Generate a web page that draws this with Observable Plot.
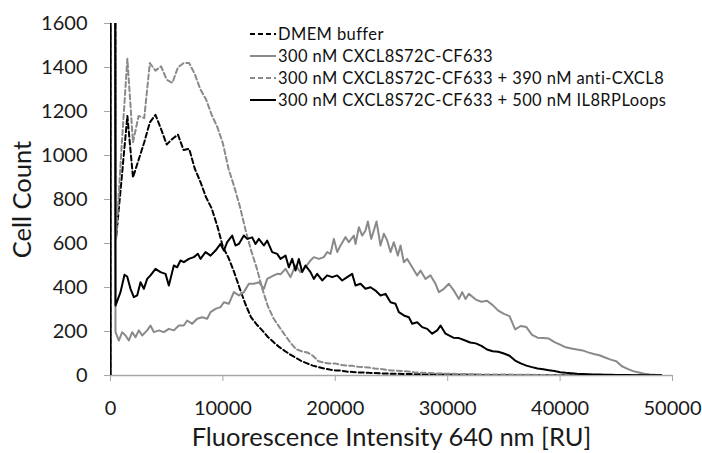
<!DOCTYPE html>
<html>
<head>
<meta charset="utf-8">
<script src="https://cdn.jsdelivr.net/npm/d3@7"></script>
<script src="https://cdn.jsdelivr.net/npm/@observablehq/plot@0.6"></script>
<style>
  html, body { margin: 0; padding: 0; background: #fff; }
  #wrap { position: relative; width: 702px; height: 453px; font-family: Lato, "Open Sans", sans-serif; }
  #legend { position: absolute; left: 250px; top: 23.5px; font-size: 16.5px; letter-spacing: 0.4px; color: #111; }
  .row { display: flex; align-items: center; height: 21.8px; white-space: nowrap; }
  .row svg { margin-right: 1px; flex: none; }
</style>
</head>
<body>
<div id="wrap"></div>
<script>
// Shared bins (RU) for the two dashed series
const binX = [0, 0, 500, 1000, 1500, 2000, 2500, 3000, 3500, 4000, 4500,
  5000, 5500, 6000, 6500, 7000, 7500, 8000, 8500, 9000, 9500,
  10000, 10500, 11000, 11500, 12000, 12500, 13000, 13500, 14000, 14500,
  15000, 15500, 16000, 16500, 17000, 17500, 18000, 18500, 19000, 19500,
  20000, 20500, 21000, 21500, 22000, 22500, 23000, 23500, 24000, 24500,
  25000, 25500, 26000, 26500, 27000, 27500, 28000, 28500, 29000, 29500,
  30000, 30500, 31000, 31500, 32000, 32500, 33000, 33500, 34000, 34500,
  35000, 35500, 36000, 36500, 37000, 37500, 38000, 38500, 39000, 39500,
  40000, 40500, 41000, 41500, 42000, 42500, 43000, 43500, 44000, 44500,
  45000, 45500, 46000, 46500, 47000, 47500, 48000, 48500, 49000];

const dmemY = [0, 20000, 627, 900, 1180, 900, 980, 1060, 1150, 1185, 1120, 1050,
  1075, 1095, 1025, 1030, 940, 880, 810, 760, 680, 585,
  535, 470, 395, 325, 265, 232, 205, 175, 152, 130,
  112, 95, 80, 65, 55, 45, 38, 32, 27, 23,
  22, 18, 16, 14, 14, 12, 11, 10, 9, 8,
  8, 7, 7, 6, 6, 5, 5, 5, 4, 4,
  4, 3, 3, 3, 3, 2, 2, 2, 2, 2,
  2, 1, 1, 1, 1, 1, 1, 1, 1, 1,
  1, 1, 1, 1, 1, 0, 0, 0, 0, 0,
  0, 0, 0, 0, 0, 0, 0, 0];

const antiY = [0, 20000, 620, 1050, 1440, 1060, 1180, 1170, 1420, 1386, 1405, 1345,
  1330, 1400, 1420, 1420, 1370, 1300, 1255, 1185, 1130, 1055,
  940, 860, 770, 665, 570, 490, 395, 315, 260, 222,
  185, 150, 120, 110, 105, 90, 65, 58, 55, 55,
  48, 45, 44, 40, 38, 36, 32, 30, 26, 23,
  22, 20, 18, 15, 13, 12, 11, 9, 9, 8,
  8, 7, 7, 6, 6, 5, 5, 5, 4, 4,
  4, 3, 3, 3, 3, 2, 2, 2, 2, 2,
  2, 1, 1, 1, 1, 1, 1, 1, 1, 1,
  1, 1, 0, 0, 0, 0, 0, 0];

// 300 nM CXCL8S72C-CF633 (solid grey)
const cxcl8X = [0, 0, 445, 742, 1038, 1335, 1631, 1928, 2224, 2521, 2818,
  3263, 3559, 3856, 4301, 4746, 5190, 5635, 6080, 6525,
  6822, 7267, 7712, 8157, 8601, 8898, 9343, 9788, 10084,
  10529, 10974, 11419, 11864, 12309, 12754, 13199, 13644, 13940,
  14534, 14830, 15125, 15570, 16015, 16460, 16905, 17350, 17794,
  18091, 18536, 18981, 19277, 19574, 19871, 20167, 20464, 20909,
  21205, 21650, 21799, 22095, 22392, 22688, 22896, 23193, 23430,
  23667, 24023, 24320, 24616, 24913, 25209, 25565, 25803, 26099,
  26396, 26841, 27286, 27582, 28027, 28472, 28917, 29214, 29659,
  30104, 30548, 30993, 31290, 31587, 31883,
  32500, 33000, 33500, 34000, 34500, 35000, 35500, 36000, 36500, 37000,
  37500, 38000, 38500, 39000, 39500, 40000, 40500, 41000, 41500, 42000,
  42500, 43000, 43500, 44000, 44500, 45000, 45500, 46000, 46500, 47000,
  47500, 48000, 48500, 49000];
const cxcl8Y = [0, 20000, 197, 159, 197, 182, 159, 197, 174, 205, 182,
  205, 227, 197, 205, 197, 212, 205, 227, 227,
  250, 235, 258, 265, 258, 288, 303, 311, 333,
  326, 379, 364, 379, 417, 417, 424, 394, 439,
  455, 462, 460, 485, 447, 500, 470, 492, 523,
  538, 530, 538, 561, 553, 621, 561, 591, 629,
  606, 636, 598, 674, 636, 659, 700, 621, 659,
  700, 591, 644, 614, 561, 606, 545, 591, 515,
  530, 492, 455, 477, 439, 455, 417, 379, 394,
  417, 386, 348, 379, 348, 371,
  345, 335, 340, 320, 295, 280, 270, 210, 225, 220,
  185, 172, 170, 168, 152, 140, 128, 123, 118, 114,
  105, 98, 92, 82, 72, 65, 42, 30, 20, 14,
  8, 5, 3, 2];

// 300 nM CXCL8S72C-CF633 + 500 nM IL8RPLoops (solid black)
const il8X = [0, 0, 445, 890, 1246, 1483, 1780, 2076, 2373, 2670, 2966,
  3263, 3559, 4004, 4449, 4894, 5190, 5635, 5932, 6228,
  6525, 6970, 7415, 7771, 8008, 8453, 8898, 9343, 9788,
  10084, 10381, 10826, 11122, 11419, 11864, 12161, 12606, 12902,
  13199, 13644, 13940, 14385, 14830, 15125, 15570, 15866, 16163,
  16460, 16756, 17053, 17350, 17794, 18091, 18388, 18833, 19277,
  19722, 20167, 20612, 21057, 21502, 21799, 22244, 22688, 23133,
  23578, 24023, 24468, 24913, 25358, 25655, 26099, 26544, 26841,
  27286, 27730, 28175, 28620, 29065, 29362, 29807,
  30500, 31000, 31500, 32000, 32500, 33000, 33500, 34000, 34500, 35000,
  35500, 36000, 36500, 37000, 37500, 38000, 38500, 39000, 39500, 40000,
  40500, 41000, 41500, 42000, 42500, 43000, 43500, 44000, 44500, 45000,
  45500, 46000, 46500, 47000, 47500, 48000, 48500, 49000];
const il8Y = [0, 20000, 318, 379, 458, 450, 394, 356, 364, 424, 394,
  439, 455, 485, 470, 462, 409, 500, 492, 523,
  515, 530, 538, 553, 530, 561, 545, 568, 598,
  568, 606, 636, 591, 598, 636, 621, 628, 598,
  621, 591, 613, 561, 553, 530, 545, 492, 530,
  477, 530, 470, 500, 470, 439, 462, 432, 455,
  447, 455, 432, 447, 462, 409, 417, 394, 401,
  386, 364, 371, 333, 326, 288, 273, 265, 235,
  242, 220, 212, 190, 205, 227, 190,
  172, 170, 160, 150, 146, 135, 118, 110, 108, 100,
  90, 68, 55, 45, 38, 32, 28, 24, 20, 15,
  12, 10, 8, 7, 6, 5, 4, 3, 3, 2,
  2, 2, 1, 1, 1, 1, 1, 1];

const seriesNames = [
  "DMEM buffer",
  "300 nM CXCL8S72C-CF633",
  "300 nM CXCL8S72C-CF633 + 390 nM anti-CXCL8",
  "300 nM CXCL8S72C-CF633 + 500 nM IL8RPLoops"
];
const seriesXs = [binX, cxcl8X, binX, il8X];
const seriesYs = [dmemY, cxcl8Y, antiY, il8Y];
const seriesColors = ["#000000", "#8a8a8a", "#8a8a8a", "#000000"];
const seriesDash = ["5,3", null, "5,3", null];

const xTicks = [0, 10000, 20000, 30000, 40000, 50000];
const yTicks = [0, 200, 400, 600, 800, 1000, 1200, 1400, 1600];

const xTitle = "Fluorescence Intensity 640 nm [RU]";
const yTitle = "Cell Count";

const lineMarks = seriesYs.map((ys, i) => {
  const xs = seriesXs[i];
  const rows = ys.map((y, j) => ({x: xs[j], y}));
  return Plot.line(rows, {
    x: "x", y: "y",
    stroke: seriesColors[i],
    strokeWidth: 2,
    strokeDasharray: seriesDash[i] || undefined,
    strokeLinejoin: "round",
    clip: true
  });
});

const chart = Plot.plot({
  width: 702,
  height: 453,
  marginLeft: 110,
  marginRight: 30,
  marginTop: 23,
  marginBottom: 78,
  style: {fontFamily: "Lato, 'Open Sans', sans-serif", fontSize: "20px", color: "#1a1a1a", background: "#fff"},
  x: {domain: [0, 50000]},
  y: {domain: [0, 1600]},
  marks: [
    Plot.axisY({ticks: yTicks, tickSize: 6, tickPadding: 17, tickFormat: d => String(d), label: null, stroke: "#a6a6a6", fill: "#1a1a1a", fontSize: 20}),
    Plot.axisX({ticks: xTicks, tickSize: 6, tickPadding: 19, tickFormat: d => String(d), label: null, stroke: "#a6a6a6", fill: "#1a1a1a", fontSize: 20}),
    Plot.ruleY([0], {stroke: "#a6a6a6", strokeWidth: 1.5}),
    Plot.ruleX([0], {stroke: "#a6a6a6"}),
    ...lineMarks,
    Plot.text([yTitle], {frameAnchor: "left", textAnchor: "middle", lineAnchor: "middle", dx: -88, rotate: -90, fontSize: 25.5, fill: "#1a1a1a"}),
    Plot.text([xTitle], {frameAnchor: "bottom", textAnchor: "middle", lineAnchor: "middle", dy: 62, fontSize: 25.5, fill: "#1a1a1a"})
  ]
});

const wrap = document.getElementById("wrap");
wrap.appendChild(chart);

const legend = document.createElement("div");
legend.id = "legend";
const ns = "http://www.w3.org/2000/svg";
seriesNames.forEach((name, i) => {
  const row = document.createElement("div");
  row.className = "row";
  const svg = document.createElementNS(ns, "svg");
  svg.setAttribute("width", 27);
  svg.setAttribute("height", 10);
  const ln = document.createElementNS(ns, "line");
  ln.setAttribute("x1", 0); ln.setAttribute("x2", 26);
  ln.setAttribute("y1", 5); ln.setAttribute("y2", 5);
  ln.setAttribute("stroke", seriesColors[i]);
  ln.setAttribute("stroke-width", 2);
  if (seriesDash[i]) ln.setAttribute("stroke-dasharray", seriesDash[i]);
  svg.appendChild(ln);
  const span = document.createElement("span");
  span.textContent = name;
  row.appendChild(svg);
  row.appendChild(span);
  legend.appendChild(row);
});
wrap.appendChild(legend);
</script>
</body>
</html>
